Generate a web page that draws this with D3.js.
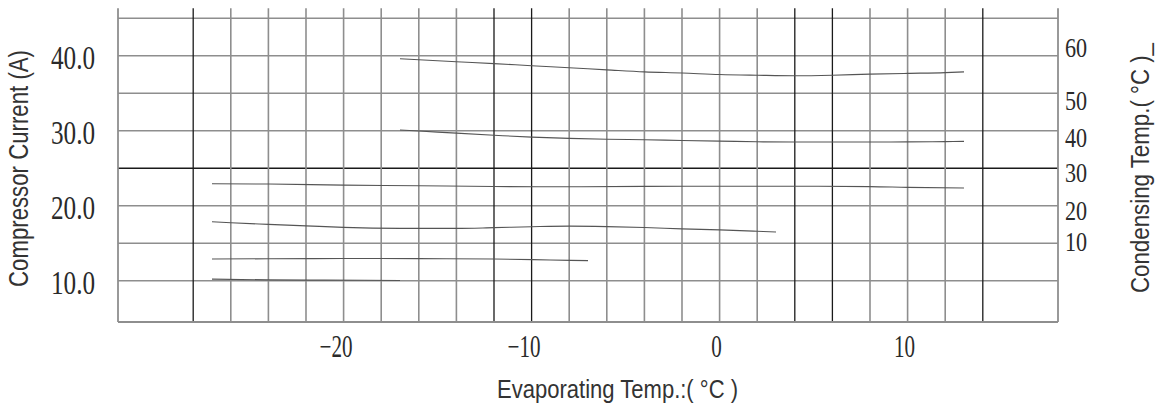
<!DOCTYPE html>
<html><head><meta charset="utf-8">
<script src="https://cdn.jsdelivr.net/npm/d3@7/dist/d3.min.js"></script>
<style>html,body{margin:0;padding:0;background:#fff;} svg{display:block}</style>
</head><body>
<svg id="chart" width="1160" height="411"></svg>
<script>
// ---- data ----
const evapTicks = [-20, -10, 0, 10];
const currentTicks = [10, 20, 30, 40];
const condLabels = [10, 20, 30, 40, 50, 60];
const condLabelAmps = [15.2, 19.4, 24.4, 29.1, 34.1, 41.1];
const gridEvap = [-28,-26,-24,-22,-20,-18,-16,-14,-12,-10,-8,-6,-4,-2,0,2,4,6,8,10,12,14];
const darkEvap = [-28, -12, -10, 4, 6, 14];
const gridAmps = [10, 15, 20, 25, 30, 35, 40, 45];
const darkAmps = [25];

const evapA = [-17,-14,-12,-10,-8,-6,-4,-2,0,2,4,6,8,10,12,13];
const curA  = [39.6,39.2,38.95,38.67,38.4,38.12,37.85,37.7,37.5,37.4,37.33,37.4,37.55,37.65,37.75,37.85];
const evapB = [-17,-15,-12,-10,-8,-6,-4,-2,0,2,4,6,8,10,12,13];
const curB  = [30.1,29.82,29.4,29.15,28.98,28.86,28.8,28.7,28.62,28.53,28.5,28.5,28.5,28.52,28.55,28.58];
const evapC = [-27,-24,-20,-16,-12,-8,-4,0,4,8,10,13];
const curC  = [22.93,22.9,22.75,22.67,22.56,22.53,22.58,22.6,22.6,22.55,22.45,22.36];
const evapD = [-27,-26,-24,-22,-20,-17,-14,-12,-10,-8,-6,-4,-2,0,2,3];
const curD  = [17.87,17.73,17.52,17.32,17.12,16.99,16.98,17.08,17.2,17.28,17.22,17.1,16.92,16.78,16.6,16.5];
const evapE = [-27,-24,-20,-16,-12,-9,-7];
const curE  = [12.9,12.93,12.96,12.95,12.9,12.77,12.68];
const evapF = [-27,-24,-21,-17];
const curF  = [10.22,10.12,10.08,10.04];

const seriesList = [[evapA,curA],[evapB,curB],[evapC,curC],[evapD,curD],[evapE,curE],[evapF,curF]];

// ---- scales ----
const x = d3.scaleLinear().domain([-32, 18]).range([118, 1058]);
const y = d3.scaleLinear().domain([4.5, 45]).range([322, 18.25]);

const svg = d3.select('#chart');
const gray = '#8e8e8e', dark = '#1a1a1a';
const yTop = y(45) - 10;

// horizontal grid
svg.append('g').selectAll('line').data(gridAmps).join('line')
  .attr('x1', x(-32)).attr('x2', x(18))
  .attr('y1', d => y(d)).attr('y2', d => y(d))
  .attr('stroke', d => darkAmps.includes(d) ? dark : gray)
  .attr('stroke-width', d => darkAmps.includes(d) ? 1.3 : 1.6);

// vertical grid
svg.append('g').selectAll('line').data(gridEvap).join('line')
  .attr('x1', d => x(d)).attr('x2', d => x(d))
  .attr('y1', yTop).attr('y2', y(4.5))
  .attr('stroke', d => darkEvap.includes(d) ? dark : gray)
  .attr('stroke-width', d => darkEvap.includes(d) ? 1.3 : 1.6);

// frame: left, right borders and bottom
svg.append('g').selectAll('line').data([-32, 18]).join('line')
  .attr('x1', d => x(d)).attr('x2', d => x(d))
  .attr('y1', yTop).attr('y2', y(4.5))
  .attr('stroke', gray).attr('stroke-width', 1.8);
svg.append('line').attr('x1', x(-32)).attr('x2', x(18))
  .attr('y1', y(4.5)).attr('y2', y(4.5))
  .attr('stroke', gray).attr('stroke-width', 1.8);

// curves
const line = d3.line().x(d => x(d[0])).y(d => y(d[1])).curve(d3.curveMonotoneX);
svg.append('g').selectAll('path').data(seriesList).join('path')
  .attr('d', s => line(s[0].map((e, i) => [e, s[1][i]])))
  .attr('fill', 'none').attr('stroke', '#555').attr('stroke-width', 1.1);

function condense(sel, f) {
  sel.each(function () {
    const w = this.getComputedTextLength();
    this.setAttribute('textLength', w * f);
    this.setAttribute('lengthAdjust', 'spacingAndGlyphs');
  });
}

// left tick labels
svg.append('g').selectAll('text').data(currentTicks).join('text')
  .attr('x', x(-32) - 23).attr('y', d => y(d) + 13.5)
  .attr('text-anchor', 'end')
  .attr('font-family', 'Liberation Serif').attr('font-size', 34).attr('fill', '#2a2a2a')
  .text(d => d.toFixed(1))
  .call(condense, 0.74);

// right tick labels
svg.append('g').selectAll('text').data(condLabels).join('text')
  .attr('x', x(18) + 7).attr('y', (d, i) => y(condLabelAmps[i]) + 9.5)
  .attr('font-family', 'Liberation Serif').attr('font-size', 28).attr('fill', '#2a2a2a')
  .text(d => d)
  .call(condense, 0.79);

// bottom tick labels
svg.append('g').selectAll('text').data(evapTicks).join('text')
  .attr('x', d => x(d) - 3 - (d < 0 ? 4.5 : 0)).attr('y', 357)
  .attr('text-anchor', 'middle')
  .attr('font-family', 'Liberation Serif').attr('font-size', 31).attr('fill', '#2a2a2a')
  .text(d => d < 0 ? '\u2212' + Math.abs(d) : d)
  .call(condense, 0.68);

// axis titles
svg.append('text')
  .attr('x', 617.5).attr('y', 398).attr('text-anchor', 'middle')
  .attr('font-family', 'Liberation Sans').attr('font-size', 25).attr('fill', '#333')
  .attr('textLength', 241).attr('lengthAdjust', 'spacingAndGlyphs')
  .text('Evaporating Temp.:( \u00B0C )');

svg.append('text')
  .attr('transform', 'translate(28,168.5) rotate(-90)').attr('text-anchor', 'middle')
  .attr('font-family', 'Liberation Sans').attr('font-size', 27).attr('fill', '#333')
  .attr('textLength', 237).attr('lengthAdjust', 'spacingAndGlyphs')
  .text('Compressor  Current (A)');

svg.append('text')
  .attr('transform', 'translate(1149,168) rotate(-90)').attr('text-anchor', 'middle')
  .attr('font-family', 'Liberation Sans').attr('font-size', 26).attr('fill', '#333')
  .attr('textLength', 250).attr('lengthAdjust', 'spacingAndGlyphs')
  .text('Condensing  Temp.( \u00B0C )_');
</script>
</body></html>
